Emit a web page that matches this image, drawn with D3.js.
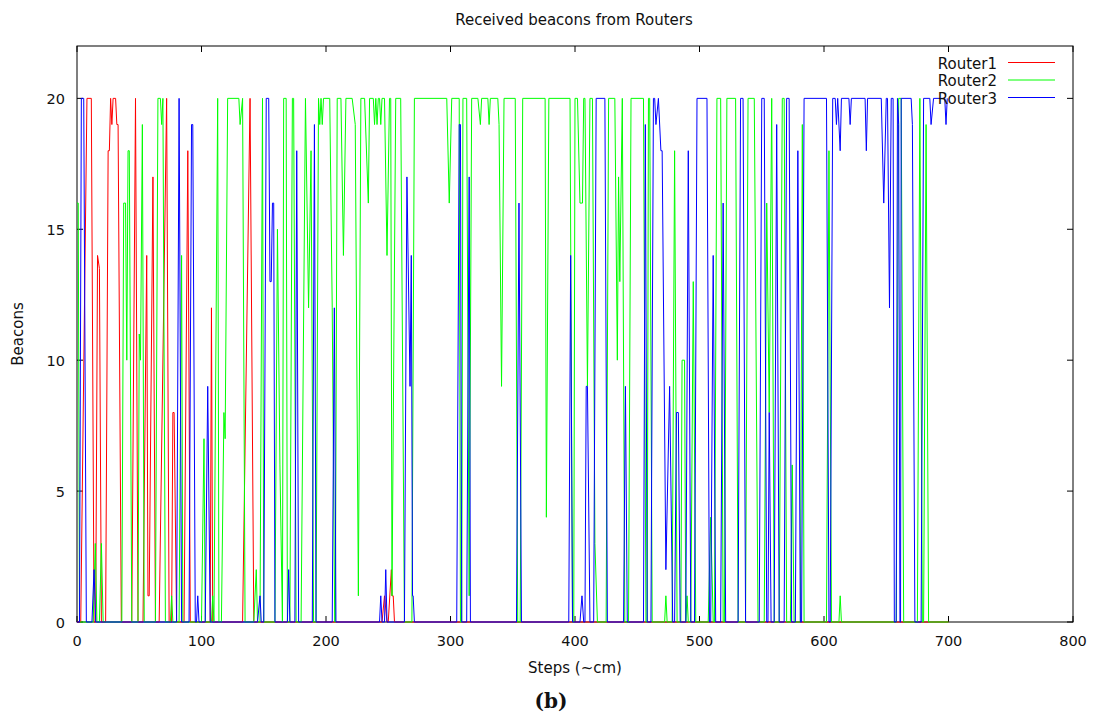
<!DOCTYPE html>
<html><head><meta charset="utf-8">
<script src="https://cdn.jsdelivr.net/npm/d3@7"></script>
<style>body{margin:0;background:#fff}svg{display:block}text{font-family:"DejaVu Sans",sans-serif;fill:#111}</style>
</head><body>
<svg id="c" width="1099" height="718"></svg>
<script>
const seriesNames = ["Router1","Router2","Router3"];
const seriesColors = ["#ff0000","#00ff00","#0000ff"];
const xTicks = [0,100,200,300,400,500,600,700,800];
const yTicks = [0,5,10,15,20];
// [step, beacons] breakpoints
const router1 = [[0,0],[3,0],[8,20],[11.5,20],[13.7,0],[15,0],[16.5,14],[18,13.5],[19.6,0],[23,0],[25,18],[26,18],[27,20],[28,19],[29,20],[31,20],[32,19],[33,19],[35.6,0],[44,0],[47,20],[49,0],[53,0],[56,14],[57,1],[58,1],[61,17],[63,0],[66,0],[72,20],[74,0],[76,0],[77,8],[78,8],[80,0],[86,0],[89,18],[91,0],[107,0],[108,12],[109,0],[133,0],[139,20],[142,0],[245,0],[247,1],[249,0],[250,0],[252.5,2],[253,1],[254,1],[255,0],[700,0]];
const router2 = [[0,16],[1,16],[2,0],[13,0],[14.7,3],[16,0],[18,0],[19.6,3],[21,0],[36,0],[37.5,16],[39,16],[40,10],[41,18],[42,18],[44,0],[49,0],[50,11],[51,10],[52.5,19],[54,0],[63,0],[65,20],[67,20],[68,19],[69,20],[71,0],[75,0],[76,1],[77,0],[82,0],[84,14],[85,0],[100,0],[102,7],[103,0],[108,0],[109,1],[110,0],[113,20],[114,0],[116,0],[118,8],[119,7],[121,20],[130,20],[131,19],[133,20],[135,0],[142,0],[144,2],[145,0],[147,0],[149,20],[150,0],[159,0],[161,15],[163,6],[165,0],[166,20],[168,20],[169,0],[171,0],[173,20],[174,20],[176,0],[180,0],[183.5,20],[186,12],[188,18],[190,0],[192,0],[194,20],[195,19],[196,20],[197,19],[198,20],[203,20],[205,12],[207,0],[207.5,0],[209,20],[212,20],[214,14],[216,20],[221,20],[223.5,19],[226,1],[228,20],[231,20],[234,16],[235,20],[238,20],[239,19],[240,20],[241,19],[242,20],[243,20],[244,19],[245,20],[247,20],[249,14],[251,20],[252,20],[253,1],[256,20],[260,20],[263,0],[269,0],[271,20],[297,20],[299,16],[301,20],[307,20],[308,0],[309,0],[310,20],[313,20],[315,1],[317,20],[322,20],[324,19],[325,20],[330,20],[331,19],[332,20],[338,20],[339,19],[341,9],[343,20],[352,20],[354,0],[356,0],[358,20],[376,20],[377,4],[379,20],[396,20],[398,0],[399,0],[400,20],[402,20],[404,16],[406,16],[407,20],[408,20],[410,9],[412,20],[414,20],[416,3],[418,0],[425,0],[427,20],[432,20],[434,10],[435,17],[436,13],[438,20],[440,0],[443,0],[445,20],[455,20],[457,0],[458,0],[459,20],[460,20],[462,0],[472,0],[473,1],[474,0],[478,0],[480,18],[482,0],[485,0],[486,10],[488,10],[489,0],[490,1],[491,0],[493,0],[495,13],[497,0],[507,0],[509,4],[511,0],[512,0],[514,20],[517,20],[519,0],[520,0],[522,20],[529,20],[531,0],[537,0],[539,20],[544,20],[547,0],[552,0],[554,16],[556,8],[558,20],[560,0],[564,0],[566.5,20],[568,20],[570,0],[573,0],[574.5,6],[576,0],[581,0],[582.6,19],[584,0],[602,0],[604,18],[606,0],[612,0],[613,1],[614,0],[658,0],[660,20],[662,20],[664,0],[675,0],[677,20],[679,0],[680,0],[682,19],[684,0],[700,0]];
const router3 = [[0,0],[2,0],[3.5,20],[5.4,20],[7.5,0],[12,0],[13.7,2],[15,0],[80,0],[82,20],[84,0],[90,0],[92,19],[93,19],[95,0],[96,0],[97,1],[98,0],[103,0],[105,9],[107,0],[145,0],[147,1],[148,0],[150,0],[152,20],[154,20],[155,13],[156,13],[157,16],[158,16],[159,0],[169,0],[170,2],[171,0],[175,0],[176.5,18],[178,0],[189,0],[190.7,19],[192,0],[205,0],[206.7,12],[208,0],[243,0],[244,1],[245,0],[247,0],[248,2],[249,0],[263,0],[265,17],[267.5,9],[268.5,14],[269.5,1],[270,1],[271,0],[305,0],[307,19],[308,19],[309,0],[313,0],[315,17],[316,0],[353,0],[355,16],[357,0],[395,0],[396.5,14],[398,0],[404,0],[405.6,1],[407,0],[408,0],[409,9],[410,9],[412,0],[415,0],[417,20],[424,20],[426,0],[439,0],[440.5,9],[442,0],[455,0],[456.5,19],[458,0],[461,0],[463,20],[464,20],[465,19],[467,20],[469,18],[470,18],[473,2],[476,9],[478.5,0],[480,0],[481.5,8],[483,8],[484.5,0],[489,0],[491,18],[493,0],[496,0],[498,20],[506,20],[508,0],[509,0],[511,14],[513,0],[517,0],[519,16],[521,0],[531,0],[533,20],[535,20],[537,0],[548,0],[550,20],[552,20],[554,0],[555,0],[556,8],[557.5,0],[560,0],[562,19],[564,0],[568,0],[570,20],[572,20],[574,0],[577,0],[579,18],[581,0],[582,0],[584,20],[602,20],[604,0],[605,0],[607,20],[609,20],[610,19],[611,20],[613,18],[614,20],[620,20],[621,19],[622,20],[633,20],[634,18],[635,20],[646,20],[648,16],[650,20],[651,20],[652.6,12],[654,20],[655.5,20],[656.5,0],[658,0],[659,20],[660,19],[661,0],[661.5,0],[662,20],[670,20],[671,19],[673,0],[678,0],[680,20],[685,20],[686,19],[688,20],[697,20],[698,19],[699,20]];
const allSeries = [router1, router2, router3];

const svg = d3.select("#c");
const L = 77, R = 1073, T = 46, B = 622;
const x = d3.scaleLinear().domain([0,800]).range([L,R]);
const y = d3.scaleLinear().domain([0,22]).range([B,T]);

svg.append("rect").attr("x",L).attr("y",T).attr("width",R-L).attr("height",B-T)
  .attr("fill","none").attr("stroke","#000").attr("stroke-width",1);

const tl = 6;
const g = svg.append("g");
xTicks.forEach(v=>{
  g.append("line").attr("x1",x(v)).attr("x2",x(v)).attr("y1",B).attr("y2",B-tl).attr("stroke","#000");
  g.append("line").attr("x1",x(v)).attr("x2",x(v)).attr("y1",T).attr("y2",T+tl).attr("stroke","#000");
  g.append("text").attr("x",x(v)).attr("y",B+24).attr("text-anchor","middle").attr("font-size",14.5).text(v);
});
yTicks.forEach(v=>{
  g.append("line").attr("x1",L).attr("x2",L+tl).attr("y1",y(v)).attr("y2",y(v)).attr("stroke","#000");
  g.append("line").attr("x1",R).attr("x2",R-tl).attr("y1",y(v)).attr("y2",y(v)).attr("stroke","#000");
  g.append("text").attr("x",L-12).attr("y",y(v)+5.5).attr("text-anchor","end").attr("font-size",14.5).text(v);
});

const line = d3.line().x(d=>x(d[0])).y(d=>y(d[1]));
allSeries.forEach((s,i)=>{
  svg.append("path").datum(s).attr("d",line).attr("fill","none")
    .attr("stroke",seriesColors[i]).attr("stroke-width",1);
});

seriesNames.forEach((n,i)=>{
  const ly = 62.5 + i*17.5;
  svg.append("text").attr("x",997).attr("y",ly+6).attr("text-anchor","end").attr("font-size",15).text(n);
  svg.append("line").attr("x1",1008).attr("x2",1055).attr("y1",ly).attr("y2",ly)
    .attr("stroke",seriesColors[i]).attr("stroke-width",1);
});

svg.append("text").attr("x",574).attr("y",25).attr("text-anchor","middle").attr("font-size",15).text("Received beacons from Routers");
svg.append("text").attr("x",575).attr("y",673).attr("text-anchor","middle").attr("font-size",15).text("Steps (~cm)");
svg.append("text").attr("transform","translate(23,334) rotate(-90)").attr("text-anchor","middle").attr("font-size",15).text("Beacons");
svg.append("text").attr("x",551).attr("y",708).attr("text-anchor","middle").attr("font-size",20).attr("font-weight","bold")
  .style("font-family","'DejaVu Serif',serif").text("(b)");
</script>
</body></html>
